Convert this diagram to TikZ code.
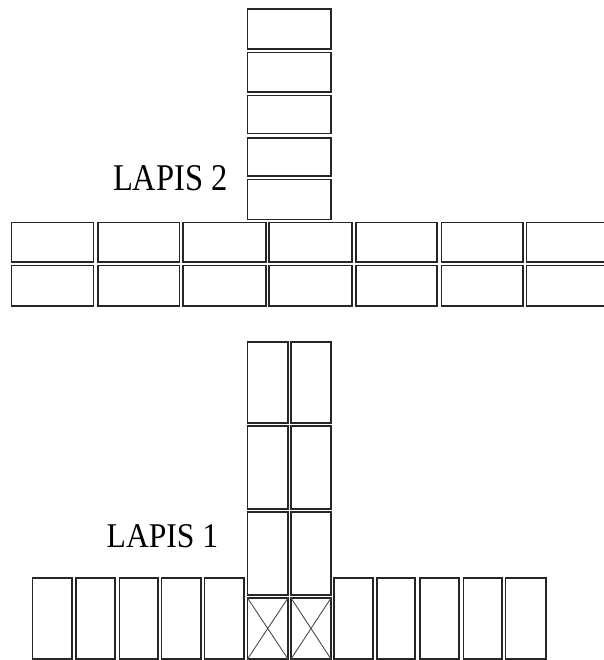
\documentclass[tikz,border=0pt]{standalone}
\usepackage{fontspec}
\setmainfont{Liberation Serif}
\begin{document}
\begin{tikzpicture}[x=1pt,y=-1pt,
  brick/.style={draw=black!85,line width=1.6pt},
  cross/.style={draw=black!70,line width=0.9pt},
  lbl/.style={anchor=base west,inner sep=0pt,outer sep=0pt,text=black}]
\useasboundingbox (0,0) rectangle (603,660);
% ---------- LAPIS 2 ----------
% vertical stack
\foreach \a/\b in {9/49,52.5/92,95.5/133.5,138/176,179.5/219.3}
  \draw[brick] (247.5,\a) rectangle (331,\b);
% two horizontal rows
\foreach \l/\r in {11.5/93.5,98/179.5,183/266,269/352,356/437,441.5/523,526.5/612}{
  \draw[brick] (\l,222.5) rectangle (\r,262);
  \draw[brick] (\l,265.5) rectangle (\r,305.7);
}
\node[lbl] (l2) at (113,190) {\fontsize{37}{40}\selectfont\scalebox{0.88}[1.02]{LAPIS 2}};
% ---------- LAPIS 1 ----------
% stacked pairs
\foreach \a/\b in {341.7/422.7,426/509,512/595}{
  \draw[brick] (247.5,\a) rectangle (288,\b);
  \draw[brick] (291,\a) rectangle (331,\b);
}
% crossed cells
\foreach \l/\r in {247.5/288,291/331}{
  \draw[brick] (\l,598) rectangle (\r,659);
  \draw[cross] (\l,598) -- (\r,659) (\l,659) -- (\r,598);
}
% side bricks
\foreach \l/\r in {32.5/71.7,76/115,119.5/158,161.5/201,204.6/244,334/373,377/415,420/459,463.5/502,505.5/545.7}
  \draw[brick] (\l,578) rectangle (\r,659);
\node[lbl] (l1) at (106.7,547.3) {\fontsize{34}{38}\selectfont\scalebox{0.93}[1.02]{LAPIS 1}};
\end{tikzpicture}
\end{document}
